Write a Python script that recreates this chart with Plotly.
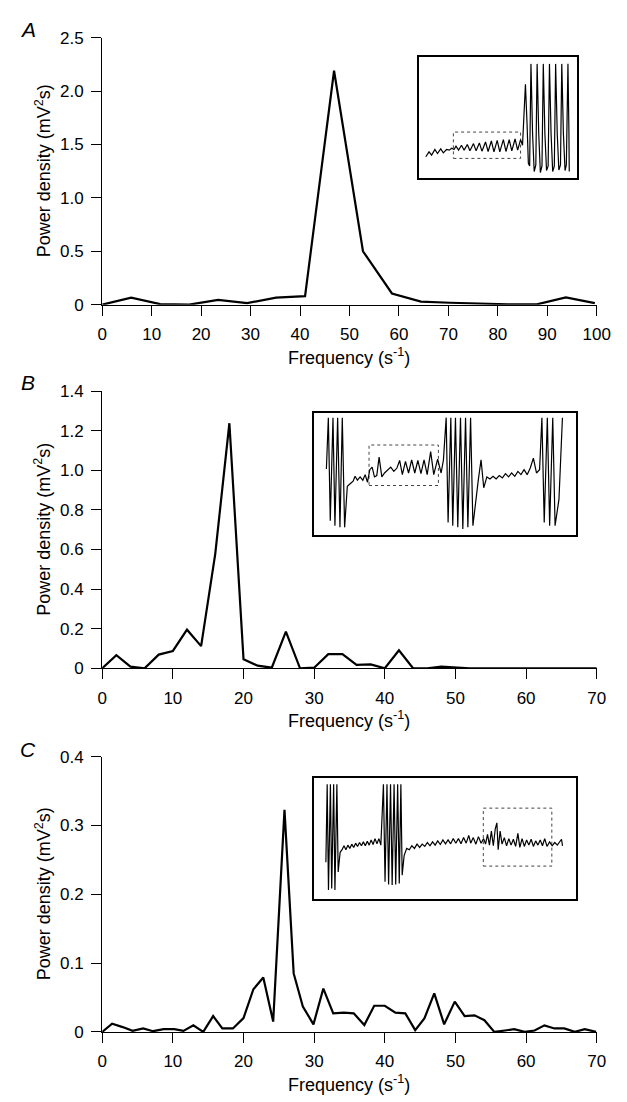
import plotly.graph_objects as go

# ---------------- data ----------------
# Panel A power spectrum
freq_a = [0, 5.86, 11.72, 17.58, 23.44, 29.30, 35.16, 41.02, 46.88, 52.73,
          58.59, 64.45, 70.31, 76.17, 82.03, 87.89, 93.75, 99.61]
power_a = [0, 0.065, 0.005, 0.0, 0.045, 0.015, 0.065, 0.08, 2.19, 0.5,
           0.105, 0.028, 0.018, 0.01, 0.004, 0.003, 0.068, 0.015]

# Panel B power spectrum
freq_b = [0, 2, 4, 6, 8, 10, 12, 14, 16, 18, 20, 22, 24, 26, 28, 30, 32, 34,
          36, 38, 40, 42, 44, 46, 48, 50, 52, 54, 56, 58, 60, 62, 64, 66, 68, 70]
power_b = [0, 0.066, 0.008, 0, 0.069, 0.0875, 0.195, 0.112, 0.578, 1.238,
           0.046, 0.013, 0.003, 0.185, 0, 0.003, 0.071, 0.071, 0.017, 0.02,
           0, 0.091, 0, 0, 0.008, 0.003, 0, 0, 0, 0, 0, 0, 0, 0, 0, 0]

# Panel C power spectrum
freq_c = [0, 1.4, 2.9, 4.3, 5.8, 7.2, 8.7, 10.2, 11.5, 12.9, 14.3, 15.7, 17.0,
          18.5, 20.0, 21.4, 22.8, 24.2, 25.8, 27.1, 28.4, 29.9, 31.3, 32.7,
          34.2, 35.6, 37.1, 38.5, 40.0, 41.5, 42.9, 44.3, 45.6, 47.0, 48.4,
          49.9, 51.3, 52.7, 54.1, 55.5, 57.0, 58.3, 59.8, 61.2, 62.6, 64.0,
          65.4, 66.9, 68.3, 69.9]
power_c = [0, 0.012, 0.007, 0.0015, 0.005, 0.001, 0.004, 0.004, 0.0015, 0.0095,
           0, 0.023, 0.005, 0.005, 0.02, 0.062, 0.079, 0.015, 0.323, 0.085,
           0.037, 0.011, 0.063, 0.027, 0.028, 0.027, 0.01, 0.038, 0.038, 0.028,
           0.027, 0.0025, 0.0195, 0.056, 0.011, 0.044, 0.023, 0.024, 0.017, 0,
           0.002, 0.004, 0, 0.002, 0.0095, 0.005, 0.005, 0, 0.004, 0]

# tick values / labels
xticks_a = [0, 10, 20, 30, 40, 50, 60, 70, 80, 90, 100]
xticks_bc = [0, 10, 20, 30, 40, 50, 60, 70]
yticks_a = [0, 0.5, 1.0, 1.5, 2.0, 2.5]
ytext_a = ["0", "0.5", "1.0", "1.5", "2.0", "2.5"]
yticks_b = [0, 0.2, 0.4, 0.6, 0.8, 1.0, 1.2, 1.4]
ytext_b = ["0", "0.2", "0.4", "0.6", "0.8", "1.0", "1.2", "1.4"]
yticks_c = [0, 0.1, 0.2, 0.3, 0.4]
ytext_c = ["0", "0.1", "0.2", "0.3", "0.4"]

# Inset traces (membrane potential, arbitrary units)
ins_a_t = [20, 30, 38, 48, 56, 66, 74, 84, 92, 100, 107, 113, 121, 130, 138, 148,
           156, 167, 175, 185, 193, 204, 212, 222, 230, 240, 248, 259, 267, 277,
           285, 295, 303, 312, 318,
           324, 327, 332, 336, 340,
           344, 349, 354, 359, 363, 368, 373, 378, 382, 387, 392, 397,
           401, 406, 411, 416, 420, 425, 430, 435, 439, 444, 449, 453,
           458, 461, 462]
ins_a_v = [65, 80, 70, 87, 75, 89, 77, 87, 85, 91, 87, 97, 85, 100, 85, 102,
           83, 105, 83, 107, 82, 110, 81, 113, 80, 115, 80, 117, 81, 117,
           83, 119, 85, 117, 100,
           215, 285, 165, 45, 37,
           347, 135, 20, 40, 347, 135, 17, 37, 347, 135, 23, 37,
           347, 135, 20, 37, 347, 135, 25, 40, 347, 135, 23, 40,
           347, 140, 20]
ins_a_box_t = [105, 312]
ins_a_box_v = [60, 140]

ins_b_t = [33, 38, 43, 50, 55, 62, 68, 74, 80, 87, 95, 102, 107, 113, 120, 127,
           133, 139, 145, 151, 157, 163, 169, 176, 183, 191, 199, 207, 215, 222,
           229, 237, 245, 253, 261, 269, 277, 285, 293, 302, 310, 320, 329, 335,
           342, 347, 354, 359, 366, 372, 379, 385, 392, 398, 405, 411,
           418, 425, 432, 439, 447, 455, 463, 471, 479, 487, 495, 503, 511, 519,
           527, 535, 543, 551, 559, 567, 575, 583,
           589, 595, 603, 609, 617, 623, 633, 642]
ins_b_v = [200, 356, 43, 356, 28, 356, 23, 356, 23, 148, 156, 163, 178, 166, 176, 166,
           183, 160, 198, 206, 176, 180, 236, 176, 188, 198, 206, 193, 203, 226,
           183, 223, 188, 228, 188, 226, 186, 228, 183, 253, 183, 230, 188, 228,
           356, 38, 356, 28, 356, 23, 356, 18, 356, 23, 356, 28,
           108, 168, 228, 143, 176, 170, 178, 170, 180, 173, 186, 176, 188, 178,
           193, 183, 198, 183, 203, 233, 188, 198,
           356, 38, 356, 28, 356, 28, 108, 356]
ins_b_box_t = [143, 322]
ins_b_box_v = [150, 273]

ins_c_t = [38, 42, 46, 52, 56, 62, 66, 72, 76, 82,
           88, 94, 100, 106, 112, 118, 124, 130, 136, 142, 148, 154, 160, 166,
           172, 178, 184, 190, 196, 202, 208,
           216, 221, 227, 232, 238, 243, 249, 254, 260, 265, 270, 274, 280, 288,
           296, 304, 312, 320, 328, 336, 344, 352, 360, 368, 376, 384, 392, 400,
           408, 416, 424, 432, 440, 448, 456, 464, 472, 480, 486, 494, 502, 510,
           518, 526, 532, 538, 544, 550, 556, 562, 567, 571, 577, 583, 590, 597,
           604, 611, 618, 625, 632, 638, 645, 652, 659, 666, 673, 680, 687, 694,
           701, 708, 715, 722, 730, 738, 746, 754, 762, 767, 770]
ins_c_v = [111, 349, 26, 349, 31, 349, 26, 349, 81, 141,
           149, 161, 149, 163, 153, 166, 156, 169, 159, 171, 161, 173, 161, 175,
           163, 179, 165, 183, 167, 183, 163,
           349, 51, 349, 43, 349, 41, 349, 43, 349, 46, 349, 71, 131, 153,
           149, 161, 153, 166, 156, 166, 159, 171, 161, 173, 163, 176, 165, 179,
           167, 179, 167, 183, 169, 183, 167, 186, 169, 193, 169, 186, 166, 189,
           169, 183, 166, 196, 163, 206, 161, 213, 231, 149, 206, 166, 186, 161,
           183, 163, 181, 159, 199, 156, 183, 159, 179, 163, 181, 159, 176, 163,
           179, 161, 183, 159, 173, 161, 171, 163, 173, 181, 161]
ins_c_box_t = [525, 737]
ins_c_box_v = [99, 276]

# ---------------- layout helpers ----------------
W, H = 627, 1102
FONT = "Liberation Sans, Arial, sans-serif"


def dx(a, b):
    return [a / W, b / W]


def dy(top, bottom):
    return [1 - bottom / H, 1 - top / H]


main_dom_x = dx(92, 602)
dom_y = {
    "A": dy(21, 292.7),
    "B": dy(380.7, 662.7),
    "C": dy(752.7, 1032.7),
}

fig = go.Figure()

line_style = dict(color="black", width=2.2)
fig.add_trace(go.Scatter(x=freq_a, y=power_a, mode="lines", line=line_style,
                         xaxis="x", yaxis="y", hoverinfo="skip"))
fig.add_trace(go.Scatter(x=freq_b, y=power_b, mode="lines", line=line_style,
                         xaxis="x2", yaxis="y2", hoverinfo="skip"))
fig.add_trace(go.Scatter(x=freq_c, y=power_c, mode="lines", line=line_style,
                         xaxis="x3", yaxis="y3", hoverinfo="skip"))

ins_line = dict(color="black", width=1.2)
fig.add_trace(go.Scatter(x=ins_a_t, y=ins_a_v, mode="lines", line=ins_line,
                         xaxis="x4", yaxis="y4", hoverinfo="skip"))
fig.add_trace(go.Scatter(x=ins_b_t, y=ins_b_v, mode="lines", line=ins_line,
                         xaxis="x5", yaxis="y5", hoverinfo="skip"))
fig.add_trace(go.Scatter(x=ins_c_t, y=ins_c_v, mode="lines", line=ins_line,
                         xaxis="x6", yaxis="y6", hoverinfo="skip"))

axis_common = dict(showline=True, linewidth=1.3, linecolor="black",
                   ticks="outside", ticklen=10, tickwidth=1.3, tickcolor="black",
                   ticklabelstandoff=4,
                   showgrid=False, zeroline=False, fixedrange=True,
                   tickfont=dict(family=FONT, size=17, color="black"))

inset_common = dict(showline=True, mirror=True, linewidth=1.5, linecolor="black",
                    ticks="", showticklabels=False, showgrid=False,
                    zeroline=False, fixedrange=True)

layout = dict(
    width=W, height=H, margin=dict(l=0, r=0, t=0, b=0),
    paper_bgcolor="white", plot_bgcolor="rgba(0,0,0,0)", showlegend=False,
    xaxis=dict(axis_common, domain=main_dom_x, range=[0, 100], anchor="y",
               tickvals=xticks_a),
    yaxis=dict(axis_common, domain=dom_y["A"], range=[0, 2.5], anchor="x",
               tickvals=yticks_a, ticktext=ytext_a),
    xaxis2=dict(axis_common, domain=main_dom_x, range=[0, 70], anchor="y2",
                tickvals=xticks_bc),
    yaxis2=dict(axis_common, domain=dom_y["B"], range=[0, 1.4], anchor="x2",
                tickvals=yticks_b, ticktext=ytext_b),
    xaxis3=dict(axis_common, domain=main_dom_x, range=[0, 70], anchor="y3",
                tickvals=xticks_bc),
    yaxis3=dict(axis_common, domain=dom_y["C"], range=[0, 0.4], anchor="x3",
                tickvals=yticks_c, ticktext=ytext_c),
    xaxis4=dict(inset_common, domain=dx(419, 582), range=[0, 487], anchor="y4"),
    yaxis4=dict(inset_common, domain=dy(41, 164), range=[0, 367], anchor="x4"),
    xaxis5=dict(inset_common, domain=dx(310, 581), range=[0, 678], anchor="y5"),
    yaxis5=dict(inset_common, domain=dy(403, 527), range=[0, 370], anchor="x5"),
    xaxis6=dict(inset_common, domain=dx(310, 581), range=[0, 813], anchor="y6"),
    yaxis6=dict(inset_common, domain=dy(774, 897), range=[0, 369], anchor="x6"),
)

shapes = []
for ax, bt, bv in (("4", ins_a_box_t, ins_a_box_v),
                   ("5", ins_b_box_t, ins_b_box_v),
                   ("6", ins_c_box_t, ins_c_box_v)):
    shapes.append(dict(type="rect", xref="x" + ax, yref="y" + ax,
                       x0=bt[0], x1=bt[1], y0=bv[0], y1=bv[1],
                       line=dict(color="#444", width=1, dash="dot"),
                       fillcolor="rgba(0,0,0,0)", layer="below"))
layout["shapes"] = shapes

annotations = []
ytitle = "Power density (mV<sup>2</sup>s)"
xtitle = "Frequency (s<sup>-1</sup>)"
x_title_y = {"A": 345, "B": 715, "C": 1085}
letter_y = {"A": 13, "B": 372, "C": 745}
for key in ("A", "B", "C"):
    d = dom_y[key]
    annotations.append(dict(text=ytitle, textangle=-90, x=31 / W, y=(d[0] + d[1]) / 2,
                            xref="paper", yref="paper", showarrow=False,
                            xanchor="center", yanchor="middle",
                            font=dict(family=FONT, size=18, color="black")))
    annotations.append(dict(text=xtitle, x=347 / W, y=1 - x_title_y[key] / H,
                            xref="paper", yref="paper", showarrow=False,
                            xanchor="center", yanchor="middle",
                            font=dict(family=FONT, size=18, color="black")))
    annotations.append(dict(text="<i>" + key + "</i>", x=15 / W, y=1 - letter_y[key] / H,
                            xref="paper", yref="paper", showarrow=False,
                            xanchor="center", yanchor="middle",
                            font=dict(family=FONT, size=21, color="black")))
layout["annotations"] = annotations

fig.update_layout(layout)
fig.write_html("out.html")
